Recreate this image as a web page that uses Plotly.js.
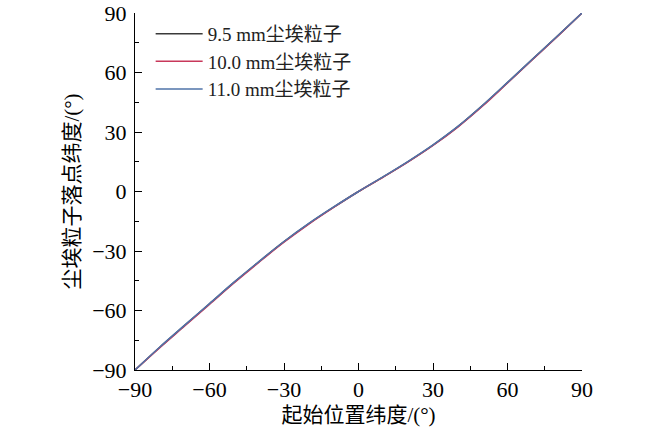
<!DOCTYPE html>
<html>
<head>
<meta charset="utf-8">
<script src="https://cdn.plot.ly/plotly-3.0.1.min.js"></script>
<style>
  html, body { margin: 0; padding: 0; background: #fff; }
  #chart { width: 650px; height: 433px; }
</style>
</head>
<body>
<div id="chart"></div>
<script>
// starting latitude (deg)
var startLat = [-90, -80, -70, -60, -50, -40, -30, -20, -10, 0, 10, 20, 30, 40, 50, 60, 70, 80, 90];

// landing latitude per particle size (deg)
var lat95 = [-90, -78.5, -67.5, -56.6, -45.7, -35.3, -25.3, -16.2, -7.9, 0, 7.4, 15.1, 23.4, 32.7, 43.4, 54.9, 66.6, 78.2, 90];
var lat100 = [-90, -78.7, -67.8, -56.9, -46.0, -35.6, -25.6, -16.4, -8.0, 0, 7.3, 14.9, 23.2, 32.5, 43.1, 54.7, 66.4, 78.0, 90];
var lat110 = [-90, -78.4, -67.4, -56.5, -45.6, -35.2, -25.2, -16.1, -7.8, 0, 7.5, 15.2, 23.5, 32.8, 43.5, 55.0, 66.7, 78.3, 90];

var names = ['9.5 mm尘埃粒子', '10.0 mm尘埃粒子', '11.0 mm尘埃粒子'];
var colors = ['#3a3a3a', '#c8385a', '#4f73a8'];
var series = [lat95, lat100, lat110];

var font = '"Liberation Serif", "Times New Roman", "Noto Sans CJK SC", serif';

var traces = [];
for (var i = 0; i < series.length; i++) {
    traces.push({
        x: startLat,
        y: series[i],
        mode: 'lines',
        type: 'scatter',
        name: names[i],
        line: { color: colors[i], width: 1.5, shape: 'spline', smoothing: 1 }
    });
}

var axisCommon = {
    range: [-90, 90],
    dtick: 30,
    tick0: -90,
    ticks: 'inside',
    ticklen: 7,
    tickwidth: 1,
    tickcolor: '#000',
    showline: true,
    linecolor: '#000',
    linewidth: 1,
    showgrid: false,
    zeroline: false,
    tickfont: { family: font, size: 22, color: '#000' },
    minor: { dtick: 15, tick0: -90, ticks: 'inside', ticklen: 4, tickcolor: '#000', showgrid: false }
};

var layout = {
    width: 650,
    height: 433,
    margin: { l: 135, r: 68, t: 13, b: 63 },
    paper_bgcolor: '#fff',
    plot_bgcolor: '#fff',
    font: { family: font, color: '#000' },
    showlegend: true,
    legend: {
        x: 0.035,
        y: 0.995,
        xanchor: 'left',
        yanchor: 'top',
        bgcolor: 'rgba(0,0,0,0)',
        itemwidth: 47,
        font: { family: font, size: 19, color: '#222' },
        tracegroupgap: 0
    },
    xaxis: Object.assign({}, axisCommon, {
        title: { text: '起始位置纬度/(°)', font: { family: font, size: 21, color: '#000' }, standoff: 5 }
    }),
    yaxis: Object.assign({}, axisCommon, {
        ticklabelstandoff: 3,
        title: { text: '尘埃粒子落点纬度/(°)', font: { family: font, size: 21, color: '#000' }, standoff: 6 }
    })
};

Plotly.newPlot('chart', traces, layout, { displayModeBar: false, staticPlot: true });
</script>
</body>
</html>
